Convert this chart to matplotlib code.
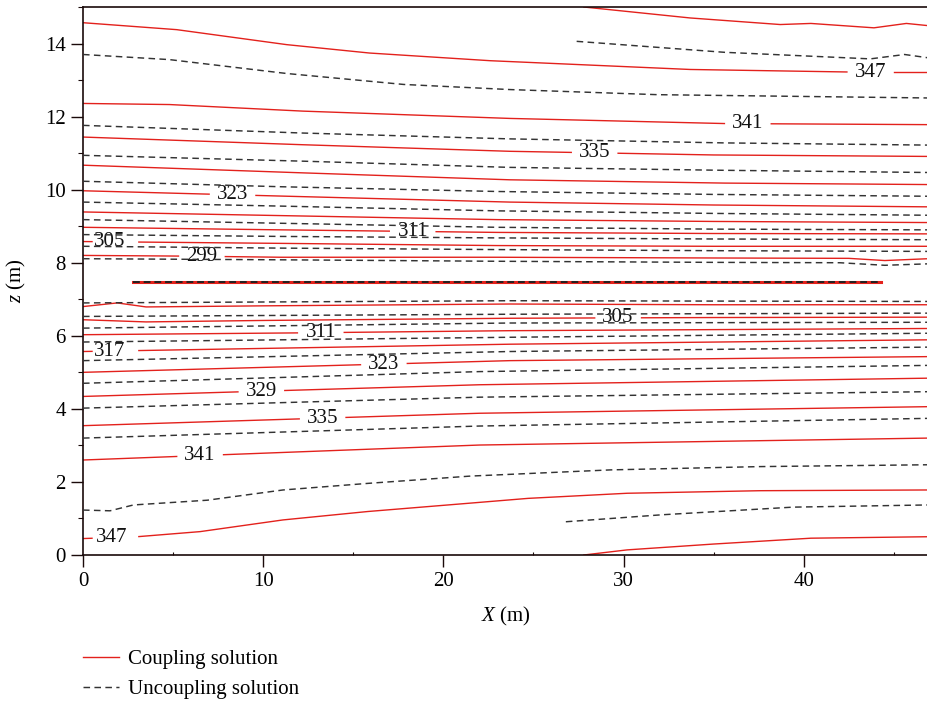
import numpy as np
import matplotlib
matplotlib.use('Agg')
import matplotlib.pyplot as plt
from matplotlib.lines import Line2D
from matplotlib.ticker import MultipleLocator

plt.rcParams['font.family'] = ['Liberation Serif', 'DejaVu Serif']
plt.rcParams['mathtext.fontset'] = 'custom'
plt.rcParams['mathtext.it'] = 'Liberation Serif:italic'
plt.rcParams['mathtext.rm'] = 'Liberation Serif'

RED = '#e3211c'
DARK = '#333333'

# coupling solution isotherms (x in m, z in m), top to bottom
red_x = [
    [27.8, 33.7, 38.7, 40.4, 43.9, 45.7, 46.9],
    [0, 5.2, 11.3, 15.9, 22.6, 33.7, 42.6, 46.9],
    [0, 4.8, 12.2, 23.7, 35.6, 46.9],
    [0, 12.2, 23.7, 35.0, 46.9],
    [0, 12.2, 23.7, 35.6, 46.9],
    [0, 9.8, 23.7, 35.0, 46.9],
    [0, 11, 23, 35, 46.9],
    [0, 11, 23, 35, 46.9],
    [0, 11, 23, 35, 46.9],
    [0, 6, 11, 23, 35, 42.5, 44.5, 46.9],
    [0, 1.9, 3.5, 10, 23.7, 35, 46.9],
    [0, 3.5, 10, 23.7, 35, 46.9],
    [0, 12, 23.7, 46.9],
    [0, 23.7, 46.9],
    [0, 23.7, 46.9],
    [0, 22, 46.9],
    [0, 22, 46.9],
    [0, 22, 46.9],
    [0, 3.0, 6.5, 11.1, 15.8, 21.5, 24.7, 30.2, 37.6, 46.9],
    [27.8, 30.2, 35, 40.4, 46.9],
]
red_z = [
    [15.0, 14.7, 14.52, 14.55, 14.43, 14.55, 14.49],
    [14.57, 14.38, 13.97, 13.74, 13.53, 13.29, 13.22, 13.22],
    [12.36, 12.33, 12.15, 11.95, 11.81, 11.78],
    [11.44, 11.23, 11.05, 10.95, 10.91],
    [10.67, 10.46, 10.27, 10.18, 10.14],
    [9.97, 9.84, 9.66, 9.58, 9.53],
    [9.39, 9.29, 9.18, 9.13, 9.1],
    [8.97, 8.9, 8.83, 8.8, 8.79],
    [8.58, 8.53, 8.47, 8.45, 8.45],
    [8.2, 8.18, 8.15, 8.15, 8.13, 8.12, 8.06, 8.11],
    [6.8, 6.9, 6.79, 6.82, 6.87, 6.85, 6.85],
    [6.44, 6.38, 6.42, 6.48, 6.5, 6.51],
    [6.03, 6.08, 6.14, 6.2],
    [5.57, 5.77, 5.89],
    [5.0, 5.32, 5.43],
    [4.34, 4.66, 4.84],
    [3.54, 3.88, 4.06],
    [2.6, 3.01, 3.2],
    [0.45, 0.5, 0.64, 0.96, 1.19, 1.42, 1.55, 1.69, 1.76, 1.78],
    [0.0, 0.14, 0.3, 0.46, 0.5],
]

# uncoupling solution isotherms
black_x = [
    [27.4, 35.6, 43.7, 45.6, 46.9],
    [0, 4.8, 11.3, 17.8, 23.7, 31.9, 46.9],
    [0, 12.2, 23.7, 35.6, 46.9],
    [0, 12.2, 23.7, 35.6, 46.9],
    [0, 11, 23, 35, 46.9],
    [0, 11, 23, 35, 46.9],
    [0, 11, 23, 35, 46.9],
    [0, 11, 23, 35, 46.9],
    [0, 11, 23, 35, 46.9],
    [0, 11, 23, 35, 42, 44.5, 46.9],
    [0, 23.7, 46.9],
    [0, 23.7, 46.9],
    [0, 23.7, 46.9],
    [0, 23.7, 46.9],
    [0, 23.7, 46.9],
    [0, 22, 46.9],
    [0, 22, 46.9],
    [0, 22, 46.9],
    [0, 1.5, 2.8, 6.9, 11.1, 15.8, 21.5, 29.3, 37.6, 46.9],
    [26.8, 32.1, 39.4, 46.9],
]
black_z = [
    [14.06, 13.76, 13.58, 13.7, 13.61],
    [13.7, 13.56, 13.18, 12.88, 12.74, 12.6, 12.51],
    [11.76, 11.55, 11.39, 11.28, 11.22],
    [10.94, 10.78, 10.61, 10.53, 10.47],
    [10.23, 10.08, 9.95, 9.87, 9.82],
    [9.66, 9.55, 9.42, 9.35, 9.3],
    [9.18, 9.08, 8.97, 8.92, 8.9],
    [8.77, 8.72, 8.68, 8.65, 8.63],
    [8.45, 8.4, 8.36, 8.33, 8.31],
    [8.11, 8.08, 8.04, 8.01, 8.0, 7.93, 7.97],
    [6.9, 6.96, 6.94],
    [6.53, 6.59, 6.62],
    [6.21, 6.35, 6.37],
    [5.83, 5.96, 6.07],
    [5.32, 5.57, 5.69],
    [4.7, 5.02, 5.19],
    [4.02, 4.32, 4.47],
    [3.2, 3.53, 3.74],
    [1.23, 1.21, 1.37, 1.5, 1.78, 1.96, 2.16, 2.33, 2.42, 2.47],
    [0.91, 1.1, 1.31, 1.37],
]

# heat source strip where both solutions bunch up
source_x = [2.8, 44.3]
source_z = [7.47, 7.47]

# contour labels: text, red line index, x position
label_text = ['347', '341', '335', '323', '311', '305', '299',
              '305', '311', '317', '323', '329', '335', '341', '347']
label_line = [1, 2, 3, 5, 7, 8, 9, 11, 12, 13, 14, 15, 16, 17, 18]
label_xpos = [43.7, 36.9, 28.4, 8.3, 18.3, 1.5, 6.6,
              29.7, 13.2, 1.5, 16.7, 9.9, 13.3, 6.5, 1.6]
gap = 1.3


def cut(x, z, xc, hw):
    x = np.asarray(x, float)
    z = np.asarray(z, float)
    a, b = xc - hw, xc + hw
    za, zb = np.interp([a, b], x, z)
    segs = []
    lx = np.r_[x[x < a], a]
    lz = np.r_[z[x < a], za]
    if len(lx) > 1:
        segs.append((lx, lz))
    rx = np.r_[b, x[x > b]]
    rz = np.r_[zb, z[x > b]]
    if len(rx) > 1:
        segs.append((rx, rz))
    return segs


fig = plt.figure(figsize=(9.28, 7.03), dpi=100)
ax = fig.add_axes([83 / 928, 1 - 555 / 703, 1 - 83 / 928, (555 - 7) / 703])

dash = (0, (4.5, 3.0))

for i in range(len(red_x)):
    if i in label_line:
        k = label_line.index(i)
        # keep the break clear of the left spine so a short stub stays visible
        xc = max(label_xpos[k], 0.5 + gap)
        for sx, sz in cut(red_x[i], red_z[i], xc, gap):
            ax.plot(sx, sz, color=RED, lw=1.0, zorder=2)
        zc = np.interp(label_xpos[k], red_x[i], red_z[i])
        ax.text(label_xpos[k], zc, label_text[k], ha='center', va='center',
                fontsize=15, color='#111111', zorder=3)
    else:
        ax.plot(red_x[i], red_z[i], color=RED, lw=1.0, zorder=2)

for i in range(len(black_x)):
    ax.plot(black_x[i], black_z[i], color=DARK, lw=1.05, ls=dash, zorder=4)

ax.plot(source_x, source_z, color=RED, lw=2.2, zorder=2)
ax.plot(source_x, source_z, color='#222222', lw=1.4, ls=(0, (3.5, 2.0)), zorder=4)

ax.set_xlim(0, 46.9)
ax.set_ylim(0, 15)
ax.xaxis.set_major_locator(MultipleLocator(10))
ax.xaxis.set_minor_locator(MultipleLocator(5))
ax.yaxis.set_major_locator(MultipleLocator(2))
ax.yaxis.set_minor_locator(MultipleLocator(1))
ax.tick_params(which='major', direction='out', length=8.5, width=1.0,
               labelsize=15, color='#1a0a0a', pad=4)
ax.tick_params(which='minor', direction='out', length=3.5, width=0.8, color='#1a0a0a')
ax.tick_params(axis='x', which='minor', direction='in', length=2)
for s in ['left', 'bottom', 'top']:
    ax.spines[s].set_color('#1a0a0a')
    ax.spines[s].set_linewidth(1.2)
ax.spines['right'].set_visible(False)

ax.set_xlabel(r'$X$ (m)', fontsize=15, labelpad=10)
ax.set_ylabel(r'$z$ (m)', fontsize=15, labelpad=12)

handles = [Line2D([], [], color=RED, lw=1.0),
           Line2D([], [], color=DARK, lw=1.05, ls=dash)]
fig.legend(handles, ['Coupling solution', 'Uncoupling solution'],
           loc='upper left', bbox_to_anchor=(75 / 928, 1 - 641 / 703),
           frameon=False, fontsize=15, handlelength=1.7, handletextpad=0.45,
           labelspacing=0.5, borderaxespad=0)

fig.savefig('out.png', dpi=100)
